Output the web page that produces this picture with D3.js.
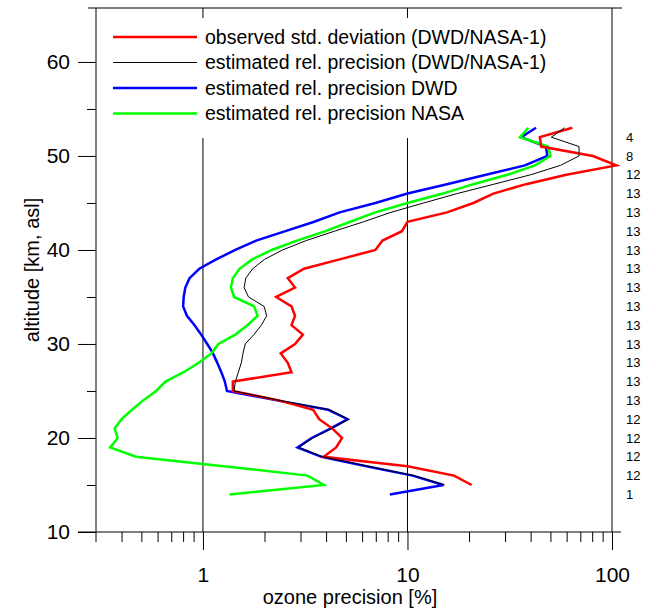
<!DOCTYPE html>
<html>
<head>
<meta charset="utf-8">
<script src="https://cdnjs.cloudflare.com/ajax/libs/d3/7.8.5/d3.min.js"></script>
<style>
body { margin: 0; background: #fff; }
text { font-family: "Liberation Sans", Arial, sans-serif; fill: #000; }
</style>
</head>
<body>
<script>
// altitudes [km] of the profile points
var altitudesSingle = [14,15,16,17,18,19,20,21,22,23,24,25,26,27,28,29,30,31,32,33,
                       34,35,36,37,38,39,40,41,42,43,44,45,46,47,48,49,50,51,52,53];
var altitudesPair = [15,16,17,18,19,20,21,22,23,24,25,26,27,28,29,30,31,32,33,
                     34,35,36,37,38,39,40,41,42,43,44,45,46,47,48,49,50,51,52,53];

// ozone precision [%]
var observedStd = [20.6,16.9,10.0,3.89,4.48,4.79,4.30,3.70,3.46,2.35,1.40,1.40,2.71,2.60,2.40,2.82,3.08,2.71,2.82,
                   2.71,2.28,2.82,2.60,3.12,4.66,6.97,7.55,9.4,10.0,15.6,21.0,26.3,38,59.8,105,80.7,45.1,44.4,64];
var estimatedPair = [15.2,10.8,6.4,3.85,2.95,3.45,4.25,5.15,4.15,2.36,1.42,1.44,1.49,1.54,1.57,1.61,1.775,1.93,2.05,
                     1.99,1.67,1.59,1.62,1.75,2.0,2.45,3.2,4.4,6.1,8.3,12,17.5,26.5,40,56,69,69,50.5,58.5];
var estimatedDWD = [8.2,15.0,10.6,6.3,3.8,2.9,3.4,4.2,5.1,4.1,2.3,1.31,1.28,1.23,1.175,1.12,1.05,0.98,0.91,0.835,
                    0.80,0.805,0.82,0.86,0.96,1.16,1.44,1.82,2.53,3.5,4.66,6.97,10.0,15.6,24.2,37.5,48.3,47.5,36,42.5];
var estimatedNASA = [1.35,3.9,3.25,1.26,0.47,0.352,0.383,0.37,0.40,0.45,0.51,0.59,0.656,0.805,0.953,1.10,1.19,1.44,1.65,1.85,
                     1.78,1.42,1.37,1.40,1.51,1.74,2.17,2.88,3.97,5.25,6.97,10.0,14.9,21.0,30.8,42,50,48.7,35.5,39];

// number of profile pairs per 2 km layer (right margin)
var countAltitudes = [14,16,18,20,22,24,26,28,30,32,34,36,38,40,42,44,46,48,50,52];
var pairCounts = [1,12,12,12,12,13,13,13,13,13,13,13,13,13,13,13,13,12,8,4];

var yMajorTicks = [10,20,30,40,50,60];
var yMinorTicks = [15,25,35,45,55];
var xMajorTicks = [1,10,100];
var xMinorTicks = [0.4,0.5,0.6,0.7,0.8,0.9,2,3,4,5,6,7,8,9,20,30,40,50,60,70,80,90];

var legendLabels = ["observed std. deviation (DWD/NASA-1)",
                    "estimated rel. precision (DWD/NASA-1)",
                    "estimated rel. precision DWD",
                    "estimated rel. precision NASA"];
var legendColors = ["#ff0000","#000000","#0000ff","#00ff00"];

var svg = d3.select("body")
        .append("svg")
        .attr("width","656")
        .attr("height","610")
        .style('display', 'block');

var x = d3.scaleLog()
    .domain([0.3, 100])
    .range([96, 612]);

var y = d3.scaleLinear()
    .domain([10, 65.74])
    .range([532, 8]);

var top_ = y.range()[1], bottom = y.range()[0];

// gridlines at the decades
svg.selectAll(".grid")
    .data([1, 10])
    .enter()
    .append("line")
    .attr("x1", function(d){ return x(d); })
    .attr("x2", function(d){ return x(d); })
    .attr("y1", top_)
    .attr("y2", bottom)
    .attr("stroke", "#000")
    .attr("stroke-width", 1);

// frame
svg.append("line").attr("x1", 88).attr("x2", 622).attr("y1", top_).attr("y2", top_).attr("stroke", "#000");
svg.append("line").attr("x1", 612).attr("x2", 612).attr("y1", top_).attr("y2", bottom).attr("stroke", "#000");
svg.append("line").attr("x1", 96).attr("x2", 96).attr("y1", top_).attr("y2", 542).attr("stroke", "#000");
svg.append("line").attr("x1", 78).attr("x2", 621).attr("y1", bottom).attr("y2", bottom).attr("stroke", "#000");

// axes
var yAxis = d3.axisLeft(y).tickValues(yMajorTicks).tickSize(18).tickPadding(8);
var yAxisMinor = d3.axisLeft(y).tickValues(yMinorTicks).tickSize(9).tickFormat("");
var xAxis = d3.axisBottom(x).tickValues(xMajorTicks).tickSize(18).tickPadding(17).tickFormat(d3.format("d"));
var xAxisMinor = d3.axisBottom(x).tickValues(xMinorTicks).tickSize(10).tickFormat("");

function customAxis(g, axis) {
    g.call(axis);
    g.select(".domain").remove();
    g.selectAll(".tick line").attr("stroke", "#000");
    g.selectAll(".tick text").style("font-size", "21px").style("font-family", "Liberation Sans, Arial, sans-serif");
}

svg.append("g").attr("transform", "translate(96,0)").call(customAxis, yAxis);
svg.append("g").attr("transform", "translate(96,0)").call(customAxis, yAxisMinor);
svg.append("g").attr("transform", "translate(0," + bottom + ")").call(customAxis, xAxis);
svg.append("g").attr("transform", "translate(0," + bottom + ")").call(customAxis, xAxisMinor);

// axis titles
svg.append("text")
    .attr("x", 350)
    .attr("y", 604)
    .attr("text-anchor", "middle")
    .style("font-size", "20px")
    .text("ozone precision [%]");

svg.append("text")
    .attr("transform", "translate(39,270) rotate(-90)")
    .attr("text-anchor", "middle")
    .style("font-size", "20px")
    .text("altitude [km, asl]");

// legend (white box hides the gridlines)
svg.append("rect")
    .attr("x", 100)
    .attr("y", 18)
    .attr("width", 460)
    .attr("height", 120)
    .attr("fill", "#fff");

var legend = svg.selectAll(".legend")
    .data(legendLabels)
    .enter()
    .append("g")
    .attr("transform", function(d, i){ return "translate(0," + (37 + i * 25.5) + ")"; });

legend.append("line")
    .attr("x1", 113)
    .attr("x2", 197)
    .attr("stroke", function(d, i){ return legendColors[i]; })
    .attr("stroke-width", function(d, i){ return i == 1 ? 1 : 2.5; });

legend.append("text")
    .attr("x", 205)
    .attr("dy", "0.35em")
    .style("font-size", "19.5px")
    .text(function(d){ return d; });

// profiles
var line = d3.line()
    .x(function(d){ return x(d[0]); })
    .y(function(d){ return y(d[1]); });

var series = [
    {values: estimatedDWD, alts: altitudesSingle, color: "#0000ff", width: 2.5},
    {values: estimatedNASA, alts: altitudesSingle, color: "#00ff00", width: 2.5},
    {values: observedStd, alts: altitudesPair, color: "#ff0000", width: 2.5},
    {values: estimatedPair, alts: altitudesPair, color: "#000000", width: 1}
];

svg.selectAll(".profile")
    .data(series)
    .enter()
    .append("path")
    .attr("d", function(s){ return line(d3.zip(s.values, s.alts)); })
    .attr("fill", "none")
    .attr("stroke", function(s){ return s.color; })
    .attr("stroke-width", function(s){ return s.width; })
    .attr("stroke-linejoin", "miter");

// pair counts
svg.selectAll(".count")
    .data(pairCounts)
    .enter()
    .append("text")
    .attr("x", 626)
    .attr("y", function(d, i){ return y(countAltitudes[i]); })
    .attr("dy", "0.35em")
    .style("font-size", "13px")
    .text(function(d){ return d; });
</script>
</body>
</html>
